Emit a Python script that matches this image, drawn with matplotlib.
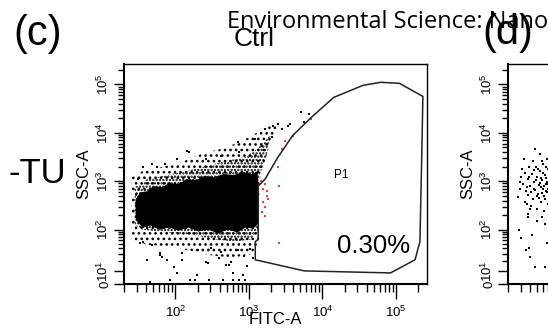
import numpy as np
import matplotlib.pyplot as plt
from matplotlib.ticker import NullFormatter

plt.rcParams['font.family'] = ['Liberation Sans', 'DejaVu Sans']
plt.rcParams['mathtext.default'] = 'regular'
plt.rcParams['hatch.linewidth'] = 1.1
plt.rcParams['hatch.color'] = 'black'

# ---- data (FITC-A, SSC-A values) ----
# P1 gate outline
gate_fitc = [1339, 1339, 1221, 1221, 5665, 84500, 182000, 212000, 225500, 232600,
             111400, 62130, 35730, 14230, 7025, 3920, 2400, 1660, 1339]
gate_ssc = [792, 62, 56, 21.7, 10.2, 8.5, 21.7, 56, 4660, 56200,
            104700, 109900, 95200, 53600, 20600, 8700, 2890, 1107, 792]

# saturated core of the Ctrl population
core_fitc = [28.8, 33.6, 41.7, 50.1, 66, 81.8, 111, 142, 193.6, 247, 336, 457, 621,
             845, 1114, 1298, 1339, 1339, 1148, 898, 703, 517, 380, 280, 206, 151,
             111, 81.8, 60.3, 45.7, 35.8, 28.8]
core_ssc = [425, 594, 623, 792, 755, 914, 872, 1108, 1056, 1280, 1219, 1408, 1342,
            1549, 1408, 1625, 1108, 134, 105.5, 110.6, 87, 100.5, 82.7, 100.5, 91.3, 110.6,
            95.8, 110.6, 100.5, 121.9, 110.6, 163]

# dotted zone around the core
inner_fitc = [28, 41.7, 77, 142, 263, 486, 898, 1298, 1765, 1995, 1765, 1423,
              1339, 1339, 1047, 661, 357, 194, 105, 56.7, 35.8, 28]
inner_ssc = [755, 1108, 1342, 1625, 2065, 2623, 3178, 4662, 7523, 9555, 3670, 1408,
             872, 91, 62, 56, 62, 75, 83, 91, 100, 128]

# sparse dotted zone
outer_fitc = [25.5, 35.8, 66, 122, 226, 417, 771, 1423, 2123, 2400, 1935, 1423,
              1339, 1047, 567, 263, 142, 77, 41.7, 25.5]
outer_ssc = [1219, 1625, 1968, 2500, 3670, 4662, 6514, 11040, 15460, 13375, 5921, 1219,
             48, 29, 24, 29, 37, 43.5, 48, 56]

# isolated events outside the cloud
dots_fitc = [35.8, 72.4, 151, 263, 703, 30.7, 56.7, 142, 1660, 2472, 3363, 5165,
             6607, 5665, 3573, 2798, 2123, 2056, 1221, 1514, 724, 417, 105, 48.6,
             32.6, 48.6, 62, 41.7, 66, 122, 95.5, 105, 194, 280, 486, 603, 819,
             84.5, 45.7, 156, 182, 288, 442, 603, 724, 898, 77, 122, 263, 392,
             533, 955, 62, 35.8, 307, 417, 703, 1047, 845, 206, 567, 1148]
dots_ssc = [1968, 2273, 4032, 2890, 6514, 1108, 1968, 4235, 12140, 15460, 14030, 27410,
            24900, 16990, 15460, 12140, 14030, 8288, 7523, 5380, 4032, 3334, 2890, 2273,
            53, 48, 32, 21.7, 25.7, 32, 13.9, 8.5, 6.9, 18.1, 16, 8.5, 6.9,
            3.1, 1.65, 3.1, 3.1, 3.1, 3.1, 3.1, 3.1, 3.1, 21.7, 21.7, 19.3, 24.3,
            16, 14.9, 28.7, 56, 41.3, 33.6, 37.3, 39.3, 27.1, 37.3, 19.3, 24.3]

# events inside P1 (red)
red_fitc = [7025, 3920, 3069, 2798, 2472, 2551, 1660, 1560, 1765, 1820, 1560, 1660,
            1514, 1660, 2551, 1468, 1765]
red_ssc = [19620, 8700, 6833, 4662, 1968, 792, 872, 686, 491, 425, 368, 290,
           228, 188, 51, 1006, 623]

# panel (d), visible left part
d_fitc = [39.2, 55, 58.4, 79.4, 29.7, 28.8, 27.1, 33.6, 40.4, 50.1, 62.1, 36.9,
          50.1, 64.1, 74.7, 29.7, 43, 68.1, 39.2, 40.4, 47.1, 64.1, 72.4, 79.4, 84.5,
          31.6, 34.7, 36.9, 38, 40.4, 43, 44.3, 45.7, 47.1, 50.1, 51.6, 53.3, 55,
          56.7, 58.4, 60.3, 62.1, 64.1, 66, 68.1, 70.3, 72.4, 74.7, 77, 79.4, 81.8,
          84.5, 87.1, 48.6, 60.3, 35.8, 41.7, 70.3, 81.8, 53.3, 45.7, 77, 33.6, 66, 56.7,
          28.8, 30.7, 32.6, 35.8, 39.2, 41.7, 44.3, 45.7, 48.6, 50.1, 51.6, 55, 56.7,
          58.4, 60.3, 62.1, 64.1, 66, 68.1, 70.3, 72.4, 74.7, 77, 79.4, 81.8, 84.5,
          87.1, 68.1, 47.1, 36.9, 58.4, 79.4, 87.1, 84.5, 77, 70.3, 66, 81.8, 28, 34.7]
d_ssc = [1968, 3670, 2623, 3847, 1219, 686, 468, 368, 263, 263, 239, 179,
         148, 128, 128, 68, 79, 53, 41.3, 25.7, 13.9, 13.9, 13.9, 24.3, 290,
         872, 623, 1108, 515, 792, 1408, 425, 959, 654, 1219, 540, 831, 1625,
         368, 1056, 686, 491, 1342, 872, 594, 1790, 1006, 425, 755, 1280, 567,
         914, 1625, 1968, 2273, 335, 304, 335, 368, 446, 1704, 2166, 1477, 1162, 755,
         959, 1790, 2890, 755, 1219, 594, 2623, 686, 1056, 491, 1790, 914, 1162,
         567, 1477, 792, 425, 1968, 959, 686, 1342, 831, 540, 1056, 1549, 686,
         1108, 2890, 4662, 207, 179, 228, 540, 425, 1006, 872, 623, 792, 100.5, 37.3]

x_major = [100, 1000, 10000, 100000]
x_labels = ['$10^{2}$', '$10^{3}$', '$10^{4}$', '$10^{5}$']
y_major = [0, 10, 100, 1000, 10000, 100000]
y_labels = ['0', '$10^{1}$', '$10^{2}$', '$10^{3}$', '$10^{4}$', '$10^{5}$']
decade_minor = [k * 10 ** d for d in range(1, 5) for k in range(2, 10)] + [200000]


def fwd(v):
    return np.arcsinh(np.asarray(v, dtype=float) / 15.0)


def inv(t):
    return 15.0 * np.sinh(t)


def style_axes(ax):
    ax.set_xscale('log')
    ax.set_yscale('function', functions=(fwd, inv))
    ax.set_xlim(25.5, 262144)
    ax.set_ylim(0, 262144)
    ax.set_xticks(x_major, labels=x_labels)
    ax.set_xticks(decade_minor, minor=True)
    ax.xaxis.set_minor_formatter(NullFormatter())
    ax.set_yticks(y_major, labels=y_labels)
    ax.set_yticks(decade_minor, minor=True)
    ax.yaxis.set_minor_formatter(NullFormatter())
    ax.tick_params(which='both', direction='out', width=1, labelsize=9.5)
    ax.tick_params(axis='x', which='major', length=11, pad=3.5)
    ax.tick_params(axis='x', which='minor', length=6)
    ax.tick_params(axis='y', which='major', length=7, pad=2, labelrotation=90)
    ax.tick_params(axis='y', which='minor', length=4)
    plt.setp(ax.get_yticklabels(), va='center')
    for side in ['left', 'bottom']:
        ax.spines[side].set_linewidth(1.5)
    for side in ['top', 'right']:
        ax.spines[side].set_linewidth(1.0)
    ax.set_xlabel('FITC-A', fontsize=12)
    ax.set_ylabel('SSC-A', fontsize=12)
    ax.xaxis.set_label_coords(0.5, -0.125)
    ax.yaxis.set_label_coords(-0.107, 0.5)


fig = plt.figure(figsize=(5.48, 3.28), dpi=100)
ax = fig.add_axes([124 / 548, 1 - 284.3 / 328, 302.7 / 548, 220.3 / 328])
style_axes(ax)

ax.fill(outer_fitc, outer_ssc, facecolor='none', edgecolor='black', linewidth=0, hatch='...')
ax.fill(inner_fitc, inner_ssc, facecolor='none', edgecolor='black', linewidth=0, hatch='.....')
ax.fill(core_fitc, core_ssc, color='black', linewidth=0)
ax.plot(dots_fitc, dots_ssc, 's', color='black', ms=1.5, mew=0)
ax.plot(red_fitc, red_ssc, 's', color='#ff3535', ms=1.5, mew=0)
ax.plot(gate_fitc, gate_ssc, color='#222222', linewidth=1.1)
ax.text(0.718, 0.498, 'P1', transform=ax.transAxes, ha='center', va='center', fontsize=8.5)
ax.text(0.823, 0.143, '0.30%', transform=ax.transAxes, ha='center', va='baseline', fontsize=18.5)

# panel (d) on the right, cut by the figure edge
ax2 = fig.add_axes([508 / 548, 1 - 284.3 / 328, 302.7 / 548, 220.3 / 328])
style_axes(ax2)
ax2.plot(d_fitc, d_ssc, 's', color='black', ms=1.5, mew=0)

fig.text(227 / 548, 1 - 28.3 / 328, 'Environmental Science: Nano', family='Open Sans',
         fontsize=17, va='baseline', ha='left')
fig.text(254.5 / 548, 1 - 45.7 / 328, 'Ctrl', fontsize=19, ha='center', va='baseline')
fig.text(13 / 548, 1 - 45 / 328, '(c)', fontsize=30, ha='left', va='baseline')
fig.text(482 / 548, 1 - 44 / 328, '(d)', fontsize=30, ha='left', va='baseline')
fig.text(8 / 548, 1 - 183 / 328, '-TU', fontsize=25, ha='left', va='baseline')

fig.savefig('out.png', dpi=100)
